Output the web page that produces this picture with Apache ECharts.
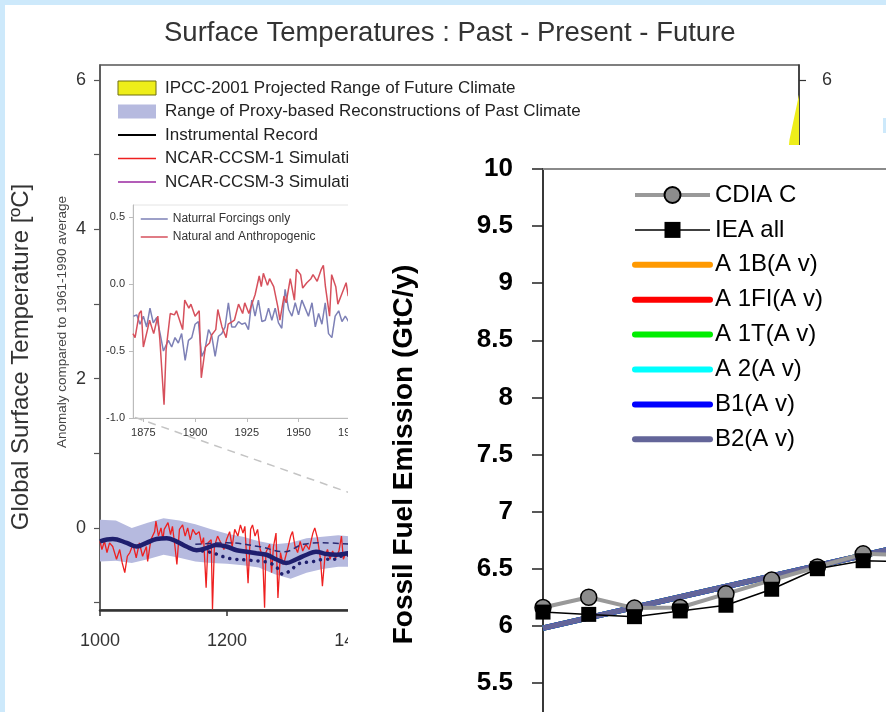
<!DOCTYPE html>
<html>
<head>
<meta charset="utf-8">
<script src="https://cdn.jsdelivr.net/npm/echarts@6/dist/echarts.min.js"></script>
<style>
html,body{margin:0;padding:0;background:#cde9fb;}
#c{width:886px;height:712px;}
</style>
</head>
<body>
<div id="c"></div>
<script>
// ---------------- DATA ----------------
const chartTitle = 'Surface Temperatures : Past - Present - Future';
const mainYTicks = [-1, 0, 1, 2, 3, 4, 5, 6];
const mainYLabels = [0, 2, 4, 6];
const mainXLabels = [1000, 1200, 1400, 1600, 1800, 2000];
const insetXLabels = [1875, 1900, 1925, 1950, 1975, 2000];
const insetYLabels = [-1, -0.5, 0, 0.5];

// IPCC-2001 projected range (only the top tip is visible)
const ipccYears = [2000, 2040, 2070, 2085, 2100];
const ipccLower = [0.3, 0.6, 0.9, 1.1, 1.4];
const ipccUpper = [0.4, 1.9, 3.9, 5.2, 5.8];

// Proxy reconstruction range
const proxyYears = [1000, 1025, 1050, 1075, 1100, 1125, 1150, 1175, 1200, 1225, 1250, 1275, 1300, 1325, 1350, 1375, 1400];
const proxyUpper = [0.11, 0.10, 0.00, 0.07, 0.13, 0.10, 0.05, -0.02, -0.08, -0.12, -0.18, -0.22, -0.20, -0.14, -0.12, -0.10, -0.12];
const proxyLower = [-0.45, -0.44, -0.47, -0.42, -0.36, -0.40, -0.45, -0.47, -0.48, -0.50, -0.53, -0.62, -0.68, -0.60, -0.55, -0.52, -0.52];

// NCAR-CCSM-1 simulation (red)
const simYears = [1000,1003,1007,1011,1015,1020,1026,1031,1035,1039,1043,1047,1052,1057,1062,1067,1073,1075,1080,1086,1088,1092,1096,1099,1101,1107,1111,1114,1118,1121,1125,1130,1134,1138,1142,1146,1151,1156,1160,1163,1167,1170,1175,1177,1180,1185,1190,1195,1199,1204,1208,1212,1217,1221,1225,1228,1233,1237,1240,1244,1248,1252,1256,1259,1261,1267,1270,1273,1277,1280,1284,1288,1291,1295,1300,1303,1307,1311,1315,1319,1324,1329,1335,1338,1342,1347,1350,1354,1358,1362,1366,1371,1376,1380,1383,1387,1390,1395];
const simValues = [-0.18,-0.29,-0.18,-0.33,-0.20,-0.25,-0.42,-0.29,-0.47,-0.60,-0.38,-0.33,-0.22,-0.40,-0.20,-0.38,-0.25,-0.45,-0.16,-0.05,0.09,-0.11,0.00,-0.16,-0.02,0.07,-0.09,0.02,-0.25,-0.49,-0.02,0.04,-0.11,0.00,-0.16,-0.02,-0.09,-0.05,-0.22,-0.13,-0.80,-0.20,-0.16,-1.09,-0.25,-0.11,-0.20,-0.29,-0.16,-0.05,-0.25,-0.02,-0.11,0.04,-0.07,0.02,-0.74,-0.02,0.04,-0.11,-0.02,-0.29,-0.38,-1.07,-0.33,-0.22,-0.60,-0.25,-0.07,-0.94,-0.33,-0.49,-0.42,-0.29,-0.11,-0.05,-0.25,-0.33,-0.18,-0.31,-0.22,-0.29,-0.07,0.00,-0.13,-0.42,-0.78,-0.38,-0.29,-0.42,-0.31,-0.40,-0.31,-0.11,-0.42,-0.33,-0.38,-0.30];

// Reconstructions (navy)
const reconYears = [1000,1020,1042,1058,1073,1089,1105,1120,1136,1152,1168,1183,1199,1215,1231,1246,1262,1277,1293,1309,1325,1340,1356,1372,1390,1400];
const reconValues = [-0.18,-0.15,-0.20,-0.25,-0.20,-0.15,-0.14,-0.18,-0.25,-0.30,-0.27,-0.23,-0.25,-0.30,-0.32,-0.34,-0.36,-0.42,-0.47,-0.42,-0.36,-0.32,-0.35,-0.36,-0.34,-0.33];
const dotYears = [1150,1175,1204,1230,1256,1267,1277,1288,1298,1308,1316,1327,1337,1353,1369,1379,1395];
const dotValues = [-0.30,-0.33,-0.41,-0.43,-0.45,-0.47,-0.52,-0.62,-0.58,-0.51,-0.47,-0.46,-0.45,-0.42,-0.42,-0.38,-0.36];
const dashYears = [1150,1200,1250,1290,1320,1350,1395];
const dashValues = [-0.22,-0.20,-0.25,-0.32,-0.22,-0.20,-0.22];

// connector from inset to main plot
const connYears = [1055, 1393];
const connValues = [1.48, 0.47];

// Inset series
const insetRedYears = [1870,1871,1873,1874,1875,1877,1878,1880,1882,1883,1885,1886,1888,1890,1891,1894,1895,1897,1898,1900,1902,1903,1905,1907,1908,1910,1911,1913,1915,1916,1918,1919,1921,1923,1924,1926,1927,1929,1931,1932,1933,1935,1936,1938,1940,1941,1943,1944,1946,1948,1949,1951,1952,1954,1956,1957,1959,1961,1962,1963,1965,1966,1968,1969,1971,1973,1974];
const insetRedValues = [-0.37,-0.40,-0.22,-0.20,-0.47,-0.34,-0.27,-0.37,-0.24,-0.42,-0.90,-0.49,-0.22,-0.23,-0.20,-0.34,-0.12,-0.18,-0.15,-0.24,-0.20,-0.70,-0.47,-0.44,-0.38,-0.34,-0.19,-0.32,-0.40,-0.30,-0.28,-0.27,-0.15,-0.22,-0.14,-0.22,-0.17,-0.08,0.06,-0.02,0.08,-0.01,0.04,-0.02,-0.17,-0.27,-0.09,-0.14,0.04,-0.12,0.11,0.07,-0.03,0.01,0.04,0.07,0.02,0.11,0.14,-0.02,-0.24,0.07,-0.02,-0.15,-0.07,0.01,-0.09];
const insetBlueYears = [1870.2,1871.8,1873.4,1875,1876.6,1878.2,1879.8,1881.5,1883.1,1884.7,1887.1,1888.7,1890.3,1891.9,1893.5,1895.2,1896.8,1898.4,1900,1901.6,1903.2,1904.8,1906.5,1908.1,1909.7,1911.3,1912.9,1914.5,1916.1,1917.7,1919.4,1921,1922.6,1924.2,1925.8,1927.4,1929,1930.6,1932.3,1933.9,1935.5,1937.1,1938.7,1940.3,1941.9,1943.5,1945.2,1946.8,1948.4,1950,1951.6,1953.2,1954.8,1956.5,1958.1,1959.7,1961.3,1962.9,1964.5,1966.1,1967.7,1969.4,1971,1972.6,1974.2];
const insetBlueValues = [-0.24,-0.23,-0.30,-0.24,-0.32,-0.18,-0.29,-0.25,-0.37,-0.50,-0.42,-0.47,-0.40,-0.44,-0.37,-0.57,-0.42,-0.40,-0.30,-0.28,-0.54,-0.49,-0.34,-0.39,-0.54,-0.39,-0.37,-0.32,-0.14,-0.32,-0.32,-0.28,-0.30,-0.29,-0.34,-0.12,-0.24,-0.12,-0.28,-0.27,-0.18,-0.27,-0.18,-0.29,-0.33,-0.04,-0.19,-0.24,-0.14,-0.23,-0.12,-0.18,-0.24,-0.14,-0.32,-0.22,-0.30,-0.14,-0.37,-0.40,-0.24,-0.20,-0.28,-0.24,-0.28];

// Fossil fuel emission chart
const fossilYears = [1990, 1991, 1992, 1993, 1994, 1995, 1996, 1997, 1998];
const cdiacValues = [6.16, 6.25, 6.155, 6.16, 6.28, 6.40, 6.515, 6.63, 6.62];
const ieaValues = [6.12, 6.10, 6.08, 6.13, 6.18, 6.32, 6.50, 6.57, 6.56];
const scenarioYears = [1990, 2000];
const a1bValues = [5.98, 6.89];
const a1fiValues = [5.98, 6.89];
const a1tValues = [5.98, 6.89];
const a2Values = [5.98, 6.89];
const b1Values = [5.98, 6.89];
const b2Values = [5.98, 6.89];

// ---------------- CHART ----------------
const FONT = "'Liberation Sans', Arial, Helvetica, sans-serif";
function pairs(xs, ys) { return xs.map((x, i) => [x, ys[i]]); }
const plain = v => String(v);

function bandSeries(name, years, lower, upper, color) {
  return {
    name: name, type: 'custom', xAxisIndex: 0, yAxisIndex: 0, z: 1,
    data: years.map((y, i) => [y, lower[i], upper[i]]),
    encode: { x: 0, y: [1, 2] },
    itemStyle: { color: color },
    renderItem: function (params, api) {
      if (params.dataIndex !== 0) return null;
      const top = [], bot = [];
      for (let i = 0; i < years.length; i++) {
        top.push(api.coord([years[i], upper[i]]));
        bot.push(api.coord([years[i], lower[i]]));
      }
      return { type: 'polygon', shape: { points: top.concat(bot.reverse()) }, style: { fill: color } };
    }
  };
}

function scenario(name, values, color) {
  return {
    name: name, type: 'line', xAxisIndex: 2, yAxisIndex: 3, zlevel: 1, z: 6,
    data: pairs(scenarioYears, values), symbol: 'none',
    lineStyle: { color: color, width: 5.5 }, itemStyle: { color: color }
  };
}

const chart = echarts.init(document.getElementById('c'), null, { renderer: 'canvas' });

const option = {
  animation: false,
  backgroundColor: '#ffffff',
  textStyle: { fontFamily: FONT },
  title: {
    text: chartTitle, left: 164, top: 19, padding: 0,
    textStyle: { fontSize: 27.5, fontWeight: 'normal', color: '#333', fontFamily: FONT }
  },
  grid: [
    { left: 100, top: 65, right: 87, bottom: 102, show: true, borderColor: '#555', borderWidth: 1.5, backgroundColor: 'transparent', containLabel: false, outerBoundsMode: 'none' },
    { left: 133, top: 205, right: 484, bottom: 294, show: true, borderColor: '#e4e4e4', borderWidth: 1, backgroundColor: 'transparent', containLabel: false, outerBoundsMode: 'none' },
    { left: 543, top: 169, right: 0, bottom: -28, zlevel: 1, z: 5, containLabel: false, outerBoundsMode: 'none' }
  ],
  xAxis: [
    { gridIndex: 0, type: 'value', min: 1000, max: 2100, splitLine: { show: false },
      axisLine: { show: true, onZero: false, lineStyle: { color: '#333', width: 2.5 } },
      axisTick: { show: true, inside: false, length: 6, customValues: mainXLabels, lineStyle: { color: '#333', width: 1.5 } },
      axisLabel: { show: true, customValues: mainXLabels, formatter: plain, fontSize: 18, color: '#333', margin: 22, fontFamily: FONT } },
    { gridIndex: 1, type: 'value', min: 1870, max: 2000, splitLine: { show: false },
      axisLine: { show: true, onZero: false, lineStyle: { color: '#bbb', width: 1 } },
      axisTick: { show: true, length: 4, customValues: insetXLabels, lineStyle: { color: '#bbb' } },
      axisLabel: { show: true, customValues: insetXLabels, formatter: plain, fontSize: 11, color: '#333', margin: 9, fontFamily: FONT } },
    { gridIndex: 2, type: 'value', position: 'top', min: 1990, max: 1997.5, zlevel: 1, z: 5, splitLine: { show: false },
      axisLine: { show: true, onZero: false, lineStyle: { color: '#8a8a8a', width: 2 } },
      axisTick: { show: false }, axisLabel: { show: false } }
  ],
  yAxis: [
    { gridIndex: 0, type: 'value', min: -1.1, max: 6.2, splitLine: { show: false },
      axisLine: { show: true, onZero: false, lineStyle: { color: '#555', width: 1.5 } },
      axisTick: { show: true, length: 6, customValues: mainYTicks, lineStyle: { color: '#555', width: 1.2 } },
      axisLabel: { show: true, customValues: mainYLabels, formatter: plain, fontSize: 18, color: '#333', margin: 14, fontFamily: FONT } },
    { gridIndex: 0, type: 'value', position: 'right', min: -1.1, max: 6.2, splitLine: { show: false },
      axisLine: { show: true, onZero: false, lineStyle: { color: '#333', width: 1.5 } },
      axisTick: { show: true, length: 7, customValues: mainYTicks, lineStyle: { color: '#333', width: 1.2 } },
      axisLabel: { show: true, customValues: mainYLabels, formatter: plain, fontSize: 18, color: '#333', margin: 23, fontFamily: FONT } },
    { gridIndex: 1, type: 'value', min: -1, max: 0.59, splitLine: { show: false },
      axisLine: { show: true, onZero: false, lineStyle: { color: '#bbb', width: 1 } },
      axisTick: { show: true, length: 4, customValues: insetYLabels, lineStyle: { color: '#bbb' } },
      axisLabel: { show: true, customValues: insetYLabels, formatter: v => Number(v).toFixed(1), fontSize: 11, color: '#333', margin: 8, fontFamily: FONT } },
    { gridIndex: 2, type: 'value', min: 5, max: 10, interval: 0.5, zlevel: 1, z: 5, splitLine: { show: false },
      axisLine: { show: true, onZero: false, lineStyle: { color: '#222', width: 1.8 } },
      axisTick: { show: true, length: 11, lineStyle: { color: '#222', width: 1.5 } },
      axisLabel: { show: true, fontSize: 26, fontWeight: 'bold', color: '#000', margin: 30, fontFamily: FONT },
      name: 'Fossil Fuel Emission (GtC/y)', nameLocation: 'middle', nameGap: 125, nameRotate: 90,
      nameTextStyle: { fontSize: 28, fontWeight: 'bold', color: '#000', fontFamily: FONT } }
  ],
  legend: [
    { left: 117, top: 79.5, orient: 'vertical', padding: 0, itemWidth: 38, itemHeight: 14, itemGap: 6.5, selectedMode: false,
      textStyle: { fontSize: 17, lineHeight: 17, color: '#222', fontFamily: FONT, padding: [0, 0, 0, 4] },
      data: [
        { name: 'IPCC-2001 Projected Range of Future Climate', icon: 'rect', itemStyle: { color: '#eeee1a', borderColor: '#6e6e10', borderWidth: 1 } },
        { name: 'Range of Proxy-based Reconstructions of Past Climate', icon: 'rect', itemStyle: { color: '#b6badf' } },
        { name: 'Instrumental Record', itemStyle: { opacity: 0 }, lineStyle: { width: 2 } },
        { name: 'NCAR-CCSM-1 Simulation', itemStyle: { opacity: 0 }, lineStyle: { width: 1.5 } },
        { name: 'NCAR-CCSM-3 Simulation', itemStyle: { opacity: 0 }, lineStyle: { width: 2 } }
      ] },
    { left: 140, top: 213, orient: 'vertical', padding: 0, itemWidth: 27, itemHeight: 10, itemGap: 6, selectedMode: false,
      textStyle: { fontSize: 12, lineHeight: 12, color: '#333', fontFamily: FONT },
      data: [
        { name: 'Naturral Forcings only', itemStyle: { opacity: 0 }, lineStyle: { width: 1.5 } },
        { name: 'Natural and Anthropogenic', itemStyle: { opacity: 0 }, lineStyle: { width: 1.5 } }
      ] },
    { left: 632, top: 183, orient: 'vertical', padding: 0, itemWidth: 75, itemHeight: 20, itemGap: 10.9, selectedMode: false,
      zlevel: 1, z: 8,
      textStyle: { fontSize: 24, lineHeight: 24, color: '#000', fontFamily: FONT },
      data: [
        { name: 'CDIA C', lineStyle: { width: 4 } },
        { name: 'IEA all', lineStyle: { width: 1.5 } },
        { name: 'A 1B(A v)', itemStyle: { opacity: 0 }, lineStyle: { width: 6, cap: 'round' } },
        { name: 'A 1FI(A v)', itemStyle: { opacity: 0 }, lineStyle: { width: 6, cap: 'round' } },
        { name: 'A 1T(A v)', itemStyle: { opacity: 0 }, lineStyle: { width: 6, cap: 'round' } },
        { name: 'A 2(A v)', itemStyle: { opacity: 0 }, lineStyle: { width: 6, cap: 'round' } },
        { name: 'B1(A v)', itemStyle: { opacity: 0 }, lineStyle: { width: 6, cap: 'round' } },
        { name: 'B2(A v)', itemStyle: { opacity: 0 }, lineStyle: { width: 6, cap: 'round' } }
      ] }
  ],
  graphic: [
    { type: 'rect', shape: { x: 0, y: 0, width: 886, height: 5 }, style: { fill: '#cde9fb' }, z: 100 },
    { type: 'rect', shape: { x: 0, y: 0, width: 5, height: 712 }, style: { fill: '#cde9fb' }, z: 100 },
    { type: 'rect', shape: { x: 883, y: 118, width: 3, height: 15 }, style: { fill: '#cde9fb' }, z: 100 },
    { type: 'text', x: 21, y: 357, rotation: Math.PI / 2, z: 10,
      style: { text: 'Global Surface Temperature [ºC]', font: "24px 'Liberation Sans', Arial, sans-serif", fill: '#333',
               textAlign: 'center', textVerticalAlign: 'middle', align: 'center', verticalAlign: 'middle' } },
    { type: 'text', x: 62, y: 322, rotation: Math.PI / 2, z: 10,
      style: { text: 'Anomaly compared to 1961-1990 average', font: "13.5px 'Liberation Sans', Arial, sans-serif", fill: '#444',
               textAlign: 'center', textVerticalAlign: 'middle', align: 'center', verticalAlign: 'middle' } },
    { type: 'rect', zlevel: 1, z: 0, shape: { x: 348, y: 145, width: 538, height: 567 }, style: { fill: '#ffffff' } }
  ],
  series: [
    bandSeries('IPCC-2001 Projected Range of Future Climate', ipccYears, ipccLower, ipccUpper, '#eeee1a'),
    bandSeries('Range of Proxy-based Reconstructions of Past Climate', proxyYears, proxyLower, proxyUpper, '#b6badf'),
    { name: 'connector', type: 'line', xAxisIndex: 0, yAxisIndex: 0, data: pairs(connYears, connValues), symbol: 'none',
      lineStyle: { color: '#c4c4c4', width: 1.5, type: [8, 6] } },
    { name: 'Instrumental Record', type: 'line', xAxisIndex: 0, yAxisIndex: 0, data: [], symbol: 'none',
      lineStyle: { color: '#000', width: 1.5 }, itemStyle: { color: '#000' } },
    { name: 'NCAR-CCSM-1 Simulation', type: 'line', xAxisIndex: 0, yAxisIndex: 0, data: pairs(simYears, simValues), symbol: 'none',
      lineStyle: { color: '#ee2020', width: 1.3 }, itemStyle: { color: '#e0505a' } },
    { name: 'NCAR-CCSM-3 Simulation', type: 'line', xAxisIndex: 0, yAxisIndex: 0, data: [], symbol: 'none',
      lineStyle: { color: '#b35db8', width: 1.5 }, itemStyle: { color: '#b35db8' } },
    { name: 'reconstruction', type: 'line', xAxisIndex: 0, yAxisIndex: 0, data: pairs(reconYears, reconValues), symbol: 'none', smooth: 0.4,
      lineStyle: { color: '#1f1f6e', width: 4.5 } },
    { name: 'reconstruction dotted', type: 'line', xAxisIndex: 0, yAxisIndex: 0, data: pairs(dotYears, dotValues), symbol: 'none', smooth: 0.4,
      lineStyle: { color: '#1f1f6e', width: 3.5, type: [0.1, 7], cap: 'round' } },
    { name: 'reconstruction dashed', type: 'line', xAxisIndex: 0, yAxisIndex: 0, data: pairs(dashYears, dashValues), symbol: 'none', smooth: 0.4,
      lineStyle: { color: '#2a2a72', width: 1.5, type: [6, 4] } },
    { name: 'Naturral Forcings only', type: 'line', xAxisIndex: 1, yAxisIndex: 2, data: pairs(insetBlueYears, insetBlueValues), symbol: 'none',
      lineStyle: { color: '#7d80b6', width: 1.5 }, itemStyle: { color: '#7d80b6' } },
    { name: 'Natural and Anthropogenic', type: 'line', xAxisIndex: 1, yAxisIndex: 2, data: pairs(insetRedYears, insetRedValues), symbol: 'none',
      lineStyle: { color: '#d6505c', width: 1.5 }, itemStyle: { color: '#d6505c' } },
    scenario('A 1B(A v)', a1bValues, '#ff9900'),
    scenario('A 1FI(A v)', a1fiValues, '#ff0000'),
    scenario('A 1T(A v)', a1tValues, '#00ee00'),
    scenario('A 2(A v)', a2Values, '#00ffff'),
    scenario('B1(A v)', b1Values, '#0000ff'),
    scenario('B2(A v)', b2Values, '#636599'),
    { name: 'CDIA C', type: 'line', xAxisIndex: 2, yAxisIndex: 3, zlevel: 1, z: 7, data: pairs(fossilYears, cdiacValues),
      symbol: 'circle', symbolSize: 16,
      lineStyle: { color: '#999', width: 4 }, itemStyle: { color: '#8c8c8c', borderColor: '#000', borderWidth: 1.5 } },
    { name: 'IEA all', type: 'line', xAxisIndex: 2, yAxisIndex: 3, zlevel: 1, z: 7, data: pairs(fossilYears, ieaValues),
      symbol: 'rect', symbolSize: 15,
      lineStyle: { color: '#000', width: 1.5 }, itemStyle: { color: '#000' } }
  ]
};
chart.setOption(option);
</script>
</body>
</html>
